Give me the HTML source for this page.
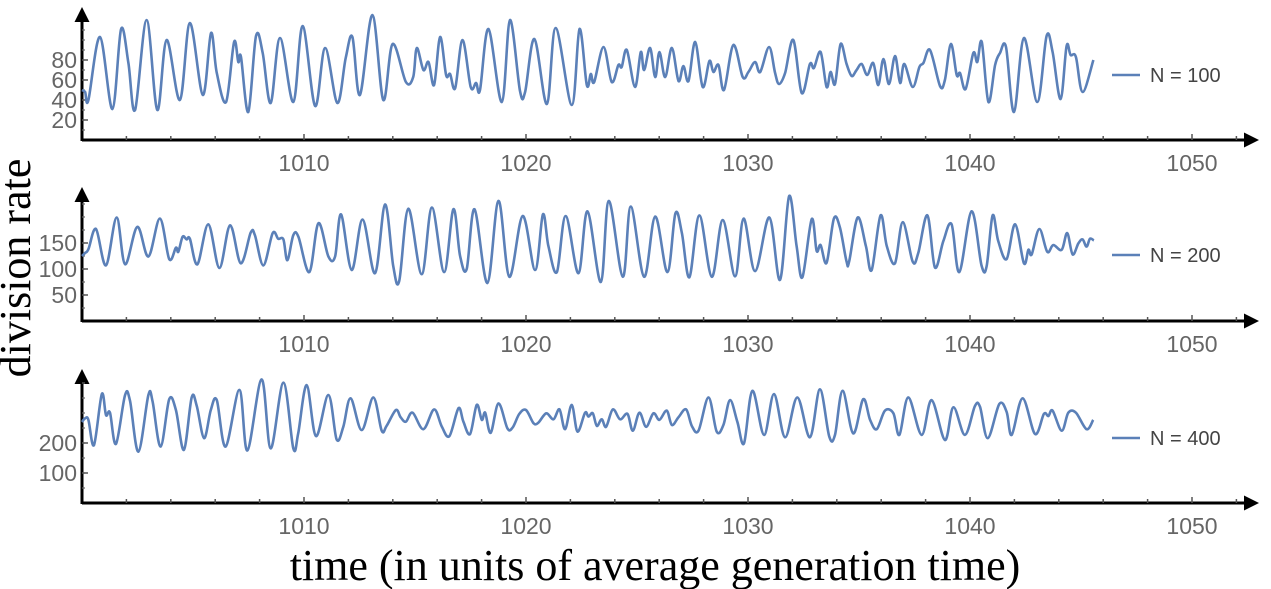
<!DOCTYPE html>
<html><head><meta charset="utf-8"><style>
html,body{margin:0;padding:0;background:#fff;}
svg{display:block;}
text{font-family:"Liberation Sans",sans-serif;}
</style></head><body>
<svg id="chart" width="1271" height="589" viewBox="0 0 1271 589" xmlns="http://www.w3.org/2000/svg">
<defs><marker id="arr" viewBox="0 0 10 10" refX="8" refY="5" markerWidth="5" markerHeight="5" orient="auto"><path d="M0,0 L10,5 L0,10 z" fill="#000"/></marker></defs>
<text x="30" y="268" transform="rotate(-90 30 268)" text-anchor="middle" font-size="44" style="font-family:'Liberation Serif',serif" fill="#000">division rate</text>
<text x="655" y="580" text-anchor="middle" font-size="44" style="font-family:'Liberation Serif',serif" fill="#000">time (in units of average generation time)</text>
</svg>
<script>
// x-axis tick labels shared by all panels
const xTicks = [1010, 1020, 1030, 1040, 1050];
const legendLabels = ["N = 100", "N = 200", "N = 400"];
const yTicks100 = [20, 40, 60, 80];
const yTicks200 = [50, 100, 150];
const yTicks400 = [100, 200];
// N=100 series: times and values of turning points
const t100 = [1000.0,1000.14,1000.29,1000.81,1001.37,1001.76,1002.09,1002.39,1002.91,1003.39,1003.81,1004.41,1004.86,1005.44,1005.81,1006.07,1006.49,1006.85,1007.04,1007.16,1007.49,1007.84,1008.14,1008.5,1008.92,1009.52,1009.94,1010.5,1010.95,1011.5,1011.88,1012.18,1012.52,1013.08,1013.57,1013.99,1014.59,1014.92,1015.08,1015.38,1015.61,1015.86,1016.13,1016.4,1016.58,1016.81,1017.14,1017.51,1017.75,1017.93,1018.31,1018.91,1019.28,1019.73,1019.96,1020.38,1020.94,1021.34,1022.06,1022.41,1022.74,1022.92,1023.07,1023.49,1023.86,1024.16,1024.31,1024.54,1024.91,1025.17,1025.32,1025.59,1025.82,1026.01,1026.27,1026.57,1026.87,1027.09,1027.32,1027.62,1027.96,1028.26,1028.44,1028.67,1028.92,1029.34,1029.76,1030.02,1030.32,1030.55,1030.95,1031.22,1031.4,1031.67,1032.04,1032.42,1032.79,1032.97,1033.27,1033.54,1033.72,1033.92,1034.17,1034.44,1034.67,1034.89,1035.12,1035.37,1035.64,1035.87,1036.1,1036.35,1036.62,1036.85,1037.04,1037.42,1037.72,1037.9,1038.2,1038.65,1038.87,1039.14,1039.4,1039.55,1039.8,1040.15,1040.33,1040.53,1040.83,1041.13,1041.35,1041.62,1041.98,1042.43,1043.03,1043.45,1043.72,1044.08,1044.35,1044.53,1044.77,1045.07,1045.56];
const v100 = [50,48,40,103,31,111,77,30,120,30,100,40,117,45,107,67,38,98,78,83,28,104,87,37,102,38,114,34,92,37,82,103,45,125,40,96,58,63,92,70,78,55,103,65,66,52,100,53,57,50,111,38,120,49,48,101,36,112,35,111,55,66,58,93,58,75,73,90,53,88,70,92,63,88,63,92,59,74,59,98,53,79,68,75,50,95,63,68,78,68,93,67,56,67,100,47,76,72,88,53,68,56,96,76,64,70,76,65,77,55,81,56,84,57,76,53,73,77,90,54,60,96,65,67,51,87,78,98,38,75,87,93,28,102,38,104,88,41,94,85,83,48,80];
// N=200 series
const t200 = [1000.0,1000.14,1000.29,1000.63,1001.08,1001.56,1001.94,1002.49,1002.99,1003.51,1003.93,1004.23,1004.34,1004.53,1004.71,1004.86,1005.2,1005.69,1006.19,1006.67,1007.15,1007.6,1007.79,1008.17,1008.59,1008.84,1009.07,1009.25,1009.52,1009.75,1010.24,1010.65,1011.1,1011.4,1011.67,1012.15,1012.64,1013.2,1013.65,1014.02,1014.29,1014.7,1015.3,1015.76,1016.31,1016.73,1017.03,1017.33,1017.68,1018.26,1018.76,1019.25,1019.85,1020.41,1020.76,1021.01,1021.39,1021.79,1022.36,1022.77,1023.37,1023.73,1024.36,1024.72,1025.32,1025.82,1026.37,1026.73,1027.02,1027.36,1027.81,1028.37,1028.86,1029.42,1029.8,1030.32,1030.96,1031.44,1031.85,1032.19,1032.45,1032.87,1033.09,1033.27,1033.54,1033.87,1034.14,1034.44,1034.56,1034.94,1035.31,1035.57,1035.97,1036.25,1036.62,1036.97,1037.42,1037.67,1038.08,1038.42,1038.8,1039.17,1039.52,1040.07,1040.52,1040.75,1041.02,1041.27,1041.65,1042.03,1042.43,1042.63,1042.78,1043.12,1043.48,1043.75,1044.13,1044.38,1044.62,1044.88,1045.07,1045.25,1045.4,1045.58];
const v200 = [125,131,138,177,107,199,109,181,124,197,119,141,133,162,157,158,109,186,102,184,111,170,165,107,169,158,157,117,165,162,94,188,124,124,205,98,195,92,224,106,77,216,90,218,94,215,125,100,215,73,231,85,202,98,205,144,94,202,92,211,75,231,85,220,85,201,94,207,170,84,203,85,194,86,197,96,199,79,240,144,84,196,135,146,112,197,180,114,115,199,144,98,203,144,111,190,114,131,203,103,154,186,94,211,107,105,203,154,119,186,111,137,128,177,133,146,137,169,128,149,157,143,158,155];
// N=400 series
const t400 = [1000.0,1000.14,1000.29,1000.54,1000.89,1001.08,1001.26,1001.53,1001.94,1002.16,1002.54,1002.99,1003.18,1003.54,1003.93,1004.23,1004.59,1004.94,1005.17,1005.5,1005.8,1006.07,1006.47,1007.09,1007.45,1008.09,1008.5,1009.07,1009.52,1009.74,1010.12,1010.54,1011.1,1011.47,1011.77,1012.1,1012.6,1013.12,1013.5,1013.72,1014.14,1014.35,1014.59,1014.89,1015.38,1015.86,1016.21,1016.55,1016.96,1017.18,1017.48,1017.78,1018.01,1018.16,1018.41,1018.76,1019.16,1019.4,1019.7,1020.0,1020.34,1020.56,1020.91,1021.24,1021.51,1021.76,1022.06,1022.32,1022.66,1022.81,1023.01,1023.19,1023.41,1023.61,1023.91,1024.24,1024.57,1024.81,1025.11,1025.41,1025.74,1026.01,1026.34,1026.57,1026.87,1027.21,1027.47,1027.77,1028.22,1028.59,1028.89,1029.19,1029.52,1029.82,1030.2,1030.72,1031.17,1031.67,1032.22,1032.79,1033.24,1033.66,1033.92,1034.26,1034.74,1035.19,1035.5,1035.8,1036.17,1036.55,1036.82,1037.22,1037.82,1038.27,1038.87,1039.25,1039.77,1040.22,1040.45,1040.8,1041.32,1041.65,1041.88,1042.37,1042.93,1043.33,1043.53,1043.72,1044.13,1044.43,1044.77,1045.25,1045.55];
const v400 = [270,282,277,193,363,293,301,197,360,341,171,360,338,188,346,310,177,352,323,216,310,343,188,377,175,412,182,401,182,232,393,223,360,212,254,349,243,352,241,257,310,286,271,301,246,312,254,223,316,271,230,327,277,301,234,332,249,252,297,310,266,268,299,279,312,246,327,238,301,288,299,257,279,254,312,279,297,241,301,254,299,277,308,260,286,312,257,241,352,238,260,343,271,199,374,227,363,219,352,219,379,221,227,374,232,346,277,246,308,299,227,352,227,343,210,319,227,323,321,216,330,304,227,349,230,297,290,308,241,301,301,246,277];

const svg = document.getElementById('chart');
const NS = 'http://www.w3.org/2000/svg';
const X0 = 82, PX = 22.2;
function xScale(t){ return X0 + (t - 1000) * PX; }
function mk(tag, attrs, parent){
  const e = document.createElementNS(NS, tag);
  for (const k in attrs) e.setAttribute(k, attrs[k]);
  (parent || svg).appendChild(e);
  return e;
}
const panels = [
  {base:140, top:10, scale:1.0, yt:yTicks100, ts:t100, vs:v100, legY:75, minor:10},
  {base:321, top:190, scale:0.52, yt:yTicks200, ts:t200, vs:v200, legY:255, minor:25},
  {base:503, top:372, scale:0.30, yt:yTicks400, ts:t400, vs:v400, legY:438, minor:50}
];
panels.forEach((p, i) => {
  const g = mk('g', {});
  
  
  const yScale = v => p.base - v * p.scale;
  const xa = mk('line', {x1:X0, y1:p.base, x2:1256, y2:p.base, stroke:'#000', 'stroke-width':3, 'marker-end':'url(#arr)'}, g);
  
  
  const ya = mk('line', {x1:X0, y1:p.base+1, x2:X0, y2:p.top, stroke:'#000', 'stroke-width':3, 'marker-end':'url(#arr)'}, g);
  
  
  for (let t = 1002; t <= 1052; t += 2) {
    const major = (t % 10 === 0);
    mk('line', {x1:xScale(t), x2:xScale(t), y1:p.base, y2:p.base - (major ? 6 : 4), stroke:'#555', 'stroke-width':1.5}, g);
  }
  xTicks.forEach(t => {
    const tx = mk('text', {x:xScale(t), y:p.base + 31, 'text-anchor':'middle', 'font-size':23, fill:'#666'}, g);
    tx.textContent = t;
    
    
  });
  for (let v = p.minor; p.base - v*p.scale > p.top + 10; v += p.minor) {
    mk('line', {x1:X0, x2:X0+3, y1:yScale(v), y2:yScale(v), stroke:'#666', 'stroke-width':1.2}, g);
  }
  p.yt.forEach(v => {
    mk('line', {x1:X0, x2:X0+6, y1:yScale(v), y2:yScale(v), stroke:'#555', 'stroke-width':1.5}, g);
    const ty = mk('text', {x:77, y:yScale(v) + 8, 'text-anchor':'end', 'font-size':23, fill:'#666'}, g);
    ty.textContent = v;
    
    
  });
  // series path: Catmull-Rom spline through turning points
  const pts = p.ts.map((t, k) => [xScale(t), yScale(p.vs[k])]);
  let d = 'M' + pts[0][0].toFixed(1) + ',' + pts[0][1].toFixed(1);
  for (let k = 0; k < pts.length - 1; k++) {
    const p0 = pts[Math.max(0, k-1)], p1 = pts[k], p2 = pts[k+1], p3 = pts[Math.min(pts.length-1, k+2)];
    const c1x = p1[0] + (p2[0]-p0[0])/6, c1y = p1[1] + (p2[1]-p0[1])/6;
    const c2x = p2[0] - (p3[0]-p1[0])/6, c2y = p2[1] - (p3[1]-p1[1])/6;
    d += ' C' + c1x.toFixed(1) + ',' + c1y.toFixed(1) + ' ' + c2x.toFixed(1) + ',' + c2y.toFixed(1) + ' ' + p2[0].toFixed(1) + ',' + p2[1].toFixed(1);
  }
  const path = mk('path', {d:d, fill:'none', stroke:'#5b80b8', 'stroke-width':2.6, 'stroke-linejoin':'round'}, g);
  
  
  const lg = mk('g', {}, g);
  
  
  mk('line', {x1:1112, x2:1140, y1:p.legY, y2:p.legY, stroke:'#5b80b8', 'stroke-width':2.6}, lg);
  const lt = mk('text', {x:1150, y:p.legY + 7, 'font-size':20, fill:'#444'}, lg);
  lt.textContent = legendLabels[i];
});
</script>
</body></html>
